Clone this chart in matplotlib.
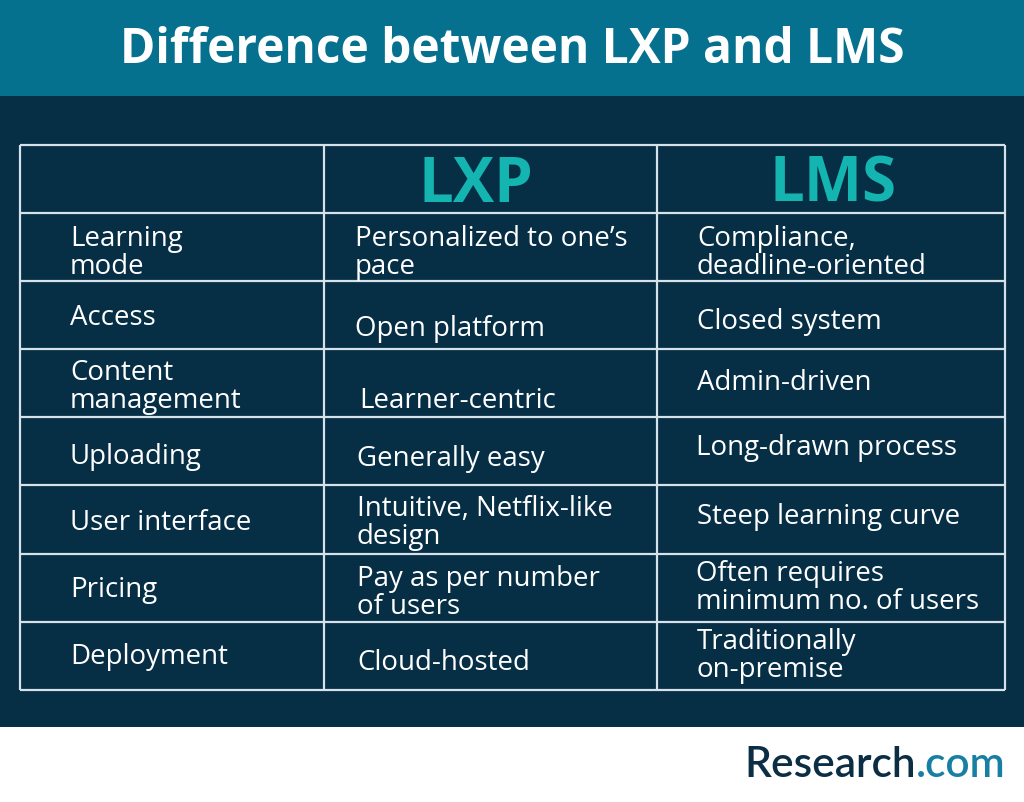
import matplotlib
matplotlib.use("Agg")
import matplotlib.pyplot as plt
from matplotlib.patches import Rectangle

# ---- data ----
title = "Difference between LXP and LMS"
columns = ["LXP", "LMS"]
features = ["Learning\nmode", "Access", "Content\nmanagement", "Uploading",
            "User interface", "Pricing", "Deployment"]
lxp = ["Personalized to one\u2019s\npace", "Open platform", "Learner-centric",
       "Generally easy", "Intuitive, Netflix-like\ndesign",
       "Pay as per number\nof users", "Cloud-hosted"]
lms = ["Compliance,\ndeadline-oriented", "Closed system", "Admin-driven",
       "Long-drawn process", "Steep learning curve",
       "Often requires\nminimum no. of users", "Traditionally\non-premise"]

# ---- layout (pixel coords) ----
W, H = 1024, 803
BAND = "#05718f"
DARK = "#062e45"
TEAL = "#14b5b0"
LINE = "#d6e2ea"
FONT = "Open Sans"

fig = plt.figure(figsize=(W / 100, H / 100), dpi=100)
ax = fig.add_axes([0, 0, 1, 1])
ax.set_xlim(0, W)
ax.set_ylim(H, 0)
ax.axis("off")

ax.add_patch(Rectangle((0, 0), W, 97, color=BAND, lw=0))
ax.add_patch(Rectangle((0, 97), W, 631, color=DARK, lw=0))
ax.add_patch(Rectangle((0, 728), W, 75, color="white", lw=0))

ax.text(W / 2, 63, title, ha="center", va="baseline", color="white",
        fontsize=34.5, fontweight="bold", family=FONT)

x0, x1, x2, x3 = 20, 324, 657, 1005
top, hdr_h, row_h = 146, 68, 68.1
n = len(features)
bottom = top + hdr_h + n * row_h
ys = [top + hdr_h + i * row_h for i in range(n + 1)]
ax.hlines([top] + ys, x0, x3, color=LINE, lw=1.6)
ax.vlines([x0, x1, x2, x3], top, bottom, color=LINE, lw=1.6)

# header
ax.text((x1 + x2) / 2 - 15, 202, columns[0], ha="center", va="baseline",
        color=TEAL, fontsize=44.5, fontweight="bold", family=FONT)
ax.text((x2 + x3) / 2 + 2, 202, columns[1], ha="center", va="baseline",
        color=TEAL, fontsize=44.5, fontweight="bold", family=FONT)

# first-line baseline offsets from each row's top edge, as in the reference
base_f = [32.5, 43, 30.5, 46, 43.5, 42.5, 41]
base_a = [32, 54, 58, 47.5, 30, 31.5, 47]
base_b = [32, 46.5, 40, 37, 38, 26.5, 27]
xa = [355, 355, 359, 357, 357, 357, 357]
xb = [697, 697, 697, 696, 697, 696, 697]

fs = 19.9
ls = 1.0
gap = 27.7  # px between baselines of wrapped lines


def cell(x, y_first, s):
    # matplotlib's 'baseline' anchors the last line; shift to anchor the first
    y = y_first + s.count("\n") * gap
    ax.text(x, y, s, ha="left", va="baseline", color="white",
            fontsize=fs, family=FONT, linespacing=ls)


for i in range(n):
    ry = ys[i]
    cell(70, ry + base_f[i], features[i])
    cell(xa[i], ry + base_a[i], lxp[i])
    cell(xb[i], ry + base_b[i], lms[i])

# logo
t1 = ax.text(744, 777, "Research", ha="left", va="baseline", color="#0b2e45",
             fontsize=30.5, fontweight="semibold", family="Lato")
fig.canvas.draw()
bb = t1.get_window_extent()
ax.text(744 + bb.width, 777, ".com", ha="left", va="baseline", color="#177fa3",
        fontsize=30.5, fontweight="semibold", family="Lato")

fig.savefig("out.png", dpi=100, facecolor="white")
